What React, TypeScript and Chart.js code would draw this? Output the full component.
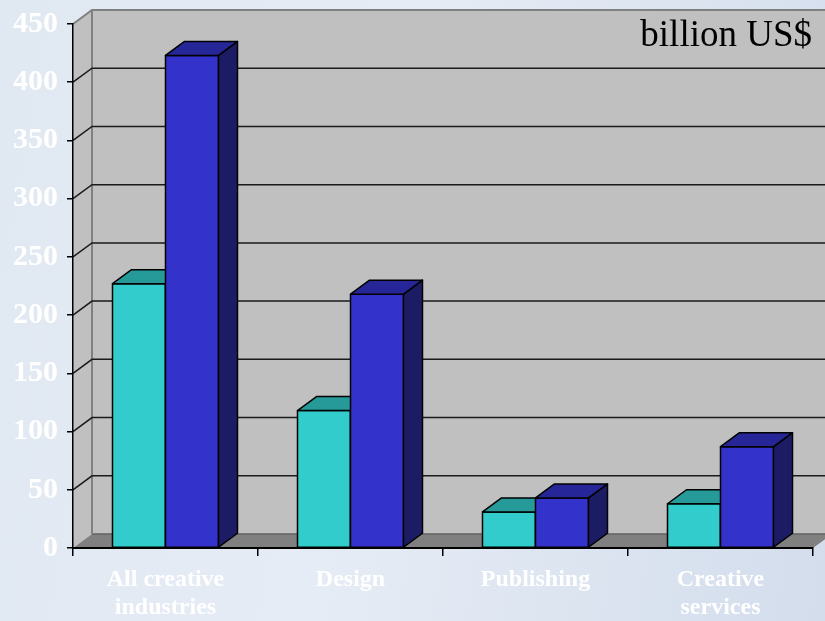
import React, { useEffect, useRef } from "react";
import { Chart, registerables } from "chart.js";

Chart.register(...registerables);

const categories: string[][] = [
  ["All creative", "industries"],
  ["Design"],
  ["Publishing"],
  ["Creative", "services"],
];
const seriesNames = ["2002", "2008"];
const series1 = [227, 118, 31, 38];
const series2 = [423, 218, 43, 87];
const frontColors = ["#33CCCC", "#3333CC"];
const topColors = ["#269999", "#262699"];
const sideColors = ["#1a8080", "#1c1c64"];
const yMax = 450;
const yStep = 50;
const unitLabel = "billion US$";

const DX = 19;
const DY = -14;
const SERIF = "'Liberation Serif', 'Times New Roman', serif";

const threeD = {
  id: "threeD",
  beforeDraw(chart: any) {
    const ctx = chart.ctx as CanvasRenderingContext2D;
    const { left, right, top, bottom } = chart.chartArea;
    const y = chart.scales.y;
    ctx.save();
    // back wall
    ctx.fillStyle = "#C0C0C0";
    ctx.fillRect(left + DX, top + DY, right - left + 40, bottom - top);
    // side wall
    ctx.beginPath();
    ctx.moveTo(left, top);
    ctx.lineTo(left + DX, top + DY);
    ctx.lineTo(left + DX, bottom + DY);
    ctx.lineTo(left, bottom);
    ctx.closePath();
    ctx.fill();
    // floor
    ctx.fillStyle = "#808080";
    ctx.beginPath();
    ctx.moveTo(left, bottom);
    ctx.lineTo(right, bottom);
    ctx.lineTo(right + DX, bottom + DY);
    ctx.lineTo(left + DX, bottom + DY);
    ctx.closePath();
    ctx.fill();
    ctx.strokeStyle = "#606060";
    ctx.lineWidth = 1.5;
    ctx.beginPath();
    ctx.moveTo(left + DX, bottom + DY);
    ctx.lineTo(right + DX + 40, bottom + DY);
    ctx.stroke();
    // wall outline
    ctx.strokeStyle = "#808080";
    ctx.lineWidth = 2;
    ctx.beginPath();
    ctx.moveTo(left, top);
    ctx.lineTo(left + DX, top + DY);
    ctx.lineTo(right + DX + 40, top + DY);
    ctx.moveTo(left + DX, top + DY);
    ctx.lineTo(left + DX, bottom + DY);
    ctx.stroke();
    // gridlines
    ctx.strokeStyle = "#1a1a1a";
    ctx.lineWidth = 1.5;
    for (let v = yStep; v < yMax; v += yStep) {
      const py = y.getPixelForValue(v);
      ctx.beginPath();
      ctx.moveTo(left, py);
      ctx.lineTo(left + DX, py + DY);
      ctx.lineTo(right + DX + 40, py + DY);
      ctx.stroke();
    }
    // unit label
    ctx.fillStyle = "#000";
    ctx.font = `37px ${SERIF}`;
    ctx.textAlign = "right";
    ctx.textBaseline = "alphabetic";
    ctx.fillText(unitLabel, right - 1, 46);
    ctx.restore();
  },
  afterDatasetsDraw(chart: any) {
    const ctx = chart.ctx as CanvasRenderingContext2D;
    ctx.save();
    ctx.strokeStyle = "#000";
    ctx.lineWidth = 1.5;
    ctx.lineJoin = "round";
    const n = chart.data.labels.length;
    for (let i = 0; i < n; i++) {
      chart.data.datasets.forEach((_ds: any, di: number) => {
        const el = chart.getDatasetMeta(di).data[i];
        if (!el) return;
        const { x, y, base, width } = el.getProps(["x", "y", "base", "width"], true);
        const l = x - width / 2;
        const r = x + width / 2;
        // front
        ctx.fillStyle = frontColors[di];
        ctx.fillRect(l, y, width, base - y);
        ctx.strokeRect(l, y, width, base - y);
        // side
        ctx.fillStyle = sideColors[di];
        ctx.beginPath();
        ctx.moveTo(r, y);
        ctx.lineTo(r + DX, y + DY);
        ctx.lineTo(r + DX, base + DY);
        ctx.lineTo(r, base);
        ctx.closePath();
        ctx.fill();
        ctx.stroke();
        // top
        ctx.fillStyle = topColors[di];
        ctx.beginPath();
        ctx.moveTo(l, y);
        ctx.lineTo(r, y);
        ctx.lineTo(r + DX, y + DY);
        ctx.lineTo(l + DX, y + DY);
        ctx.closePath();
        ctx.fill();
        ctx.stroke();
      });
    }
    ctx.restore();
  },
};

export default function App() {
  const ref = useRef<HTMLCanvasElement | null>(null);
  useEffect(() => {
    document.body.style.margin = "0";
    if (!ref.current) return;
    const chart = new Chart(ref.current, {
      type: "bar",
      data: {
        labels: categories,
        datasets: [
          { label: seriesNames[0], data: series1, backgroundColor: frontColors[0], borderWidth: 0 },
          { label: seriesNames[1], data: series2, backgroundColor: frontColors[1], borderWidth: 0 },
        ],
      },
      options: {
        animation: false,
        responsive: true,
        maintainAspectRatio: false,
        datasets: { bar: { categoryPercentage: 0.573, barPercentage: 1.0 } },
        layout: { padding: { left: 0, right: 12, top: 24, bottom: 0 } },
        plugins: { legend: { display: false }, tooltip: { enabled: false }, title: { display: false } },
        scales: {
          x: {
            afterFit: (s: any) => { s.height = 73; s.paddingLeft = 0; s.paddingRight = 0; },
            grid: { offset: true, drawOnChartArea: false, tickLength: 8, color: "#000", lineWidth: 1.5 },
            border: { color: "#000", width: 2 },
            ticks: {
              color: "#ffffff",
              padding: 9,
              font: { family: SERIF, size: 24, weight: "bold", lineHeight: 1.2 },
              maxRotation: 0,
              autoSkip: false,
            },
          },
          y: {
            min: 0,
            max: yMax,
            afterFit: (s: any) => { s.width = 73; s.paddingTop = 0; s.paddingBottom = 0; },
            grid: { drawOnChartArea: false, tickLength: 6, color: "#000", lineWidth: 1.5 },
            border: { color: "#000", width: 1.5 },
            ticks: {
              stepSize: yStep,
              color: "#ffffff",
              padding: 9,
              font: { family: SERIF, size: 30, weight: "bold" },
            },
          },
        },
      },
      plugins: [threeD],
    });
    return () => chart.destroy();
  }, []);
  return (
    <div
      style={{
        position: "fixed",
        left: 0,
        top: 0,
        width: 825,
        height: 621,
        background: "linear-gradient(100deg, #e0e8f2 0%, #e6ecf5 45%, #d3ddec 100%)",
      }}
    >
      <canvas ref={ref} />
    </div>
  );
}
